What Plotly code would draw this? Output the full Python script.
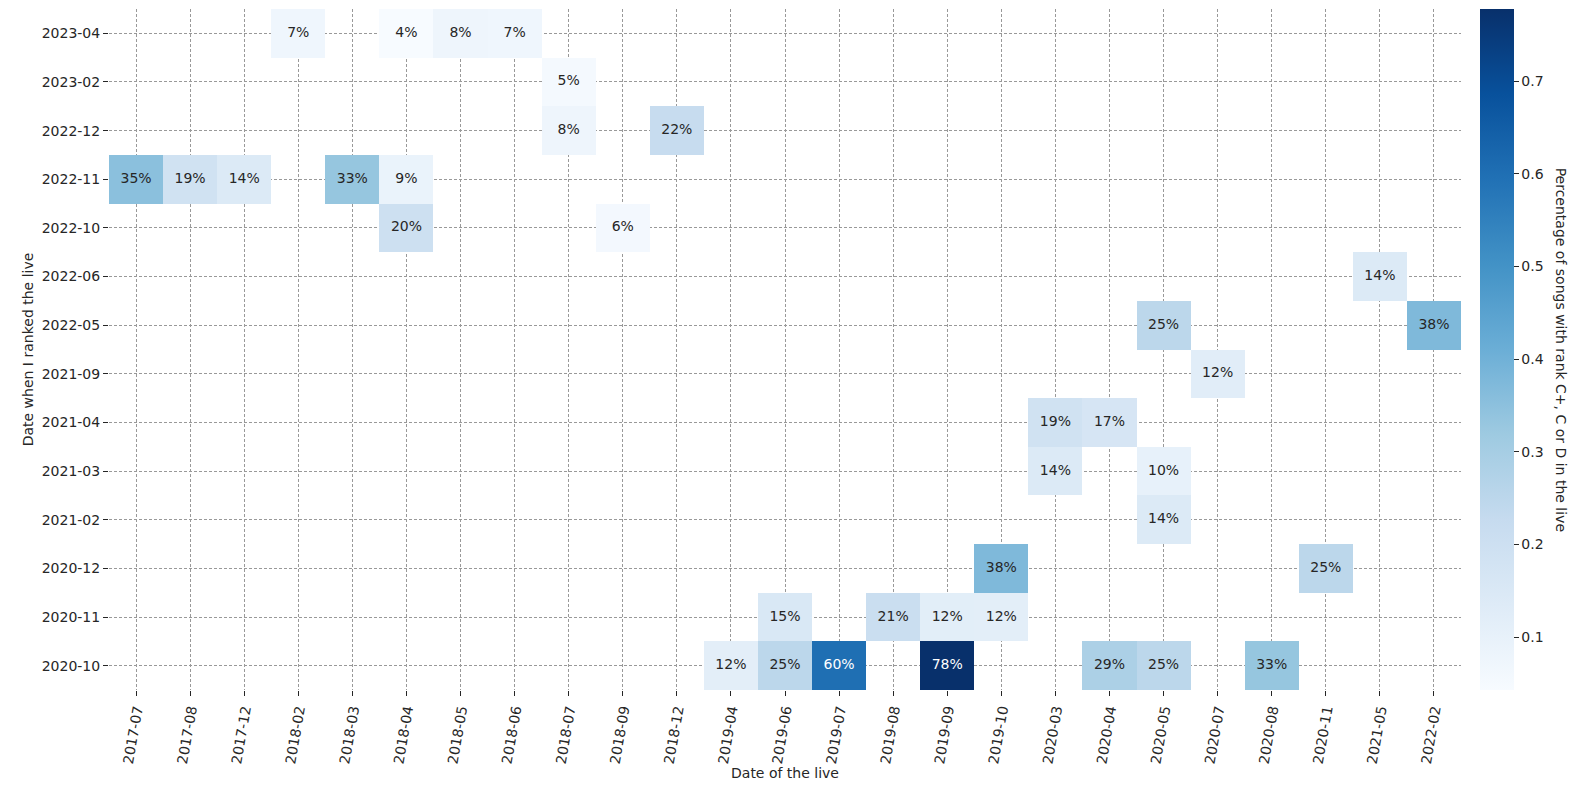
import pandas as pd
import plotly.graph_objects as go

live_dates = [
    "2017-07", "2017-08", "2017-12", "2018-02", "2018-03", "2018-04", "2018-05",
    "2018-06", "2018-07", "2018-09", "2018-12", "2019-04", "2019-06", "2019-07",
    "2019-08", "2019-09", "2019-10", "2020-03", "2020-04", "2020-05", "2020-07",
    "2020-08", "2020-11", "2021-05", "2022-02",
]
rank_dates = [
    "2023-04", "2023-02", "2022-12", "2022-11", "2022-10", "2022-06", "2022-05",
    "2021-09", "2021-04", "2021-03", "2021-02", "2020-12", "2020-11", "2020-10",
]

# one entry per filled cell: (date of the live, date ranked, share of low-ranked songs)
cell_live = [
    "2018-02", "2018-04", "2018-05", "2018-06",
    "2018-07",
    "2018-07", "2018-12",
    "2017-07", "2017-08", "2017-12", "2018-03", "2018-04",
    "2018-04", "2018-09",
    "2021-05",
    "2020-05", "2022-02",
    "2020-07",
    "2020-03", "2020-04",
    "2020-03", "2020-05",
    "2020-05",
    "2019-10", "2020-11",
    "2019-06", "2019-08", "2019-09", "2019-10",
    "2019-04", "2019-06", "2019-07", "2019-09", "2020-04", "2020-05", "2020-08",
]
cell_rank = [
    "2023-04", "2023-04", "2023-04", "2023-04",
    "2023-02",
    "2022-12", "2022-12",
    "2022-11", "2022-11", "2022-11", "2022-11", "2022-11",
    "2022-10", "2022-10",
    "2022-06",
    "2022-05", "2022-05",
    "2021-09",
    "2021-04", "2021-04",
    "2021-03", "2021-03",
    "2021-02",
    "2020-12", "2020-12",
    "2020-11", "2020-11", "2020-11", "2020-11",
    "2020-10", "2020-10", "2020-10", "2020-10", "2020-10", "2020-10", "2020-10",
]
cell_share = [
    0.071, 0.043, 0.077, 0.071,
    0.053,
    0.077, 0.222,
    0.353, 0.188, 0.143, 0.333, 0.091,
    0.200, 0.059,
    0.143,
    0.250, 0.375,
    0.125,
    0.188, 0.167,
    0.143, 0.100,
    0.143,
    0.375, 0.250,
    0.154, 0.211, 0.120, 0.118,
    0.118, 0.250, 0.600, 0.778, 0.286, 0.250, 0.333,
]

blues = [
    [0.0, "#f7fbff"], [0.125, "#deebf7"], [0.25, "#c6dbef"], [0.375, "#9ecae1"],
    [0.5, "#6baed6"], [0.625, "#4292c6"], [0.75, "#2171b5"], [0.875, "#08519c"],
    [1.0, "#08306b"],
]

FONT = "DejaVu Sans, Arial"
INK = "#262626"
SIZE = 14

cells = pd.DataFrame({"live": cell_live, "rank": cell_rank, "share": cell_share})
grid = cells.pivot(index="rank", columns="live", values="share").reindex(index=rank_dates, columns=live_dates)
z = grid.astype(object).where(grid.notna(), None).values.tolist()

fig = go.Figure()
fig.add_trace(
    go.Heatmap(
        x=live_dates,
        y=rank_dates,
        z=z,
        colorscale=blues,
        zmin=min(cell_share),
        zmax=max(cell_share),
        hoverongaps=False,
        colorbar=dict(
            thickness=34,
            len=1.0,
            lenmode="fraction",
            x=1.014,
            xanchor="left",
            xpad=0,
            ypad=0,
            y=0.5,
            outlinewidth=0,
            tickvals=[0.1, 0.2, 0.3, 0.4, 0.5, 0.6, 0.7],
            ticks="outside",
            ticklen=5,
            tickcolor=INK,
            tickfont=dict(size=SIZE, color=INK, family=FONT),
        ),
        hovertemplate="live %{x}<br>ranked %{y}<br>%{z:.0%}<extra></extra>",
    )
)

fig.add_trace(
    go.Scatter(
        x=cells["live"],
        y=cells["rank"],
        mode="text",
        text=[f"{v:.0%}" for v in cells["share"]],
        textfont=dict(
            size=SIZE,
            family=FONT,
            color=["white" if v > 0.5 else INK for v in cells["share"]],
        ),
        hoverinfo="skip",
        showlegend=False,
    )
)

fig.add_annotation(
    text="Percentage of songs with rank C+, C or D in the live",
    xref="paper",
    yref="paper",
    x=1.082,
    y=0.5,
    textangle=90,
    showarrow=False,
    font=dict(size=SIZE, color=INK, family=FONT),
)

# the page body adds an 8px offset, margins account for it
fig.update_layout(
    width=1588,
    height=800,
    margin=dict(l=101, r=135, t=1, b=118, autoexpand=False),
    plot_bgcolor="white",
    paper_bgcolor="white",
    font=dict(family=FONT, size=SIZE, color=INK),
    showlegend=False,
)
fig.update_xaxes(
    title=dict(text="Date of the live", standoff=1, font=dict(size=SIZE)),
    type="category",
    categoryorder="array",
    categoryarray=live_dates,
    range=[-0.5, len(live_dates) - 0.5],
    tickangle=-80,
    ticks="outside",
    ticklen=5,
    tickcolor=INK,
    showgrid=True,
    gridcolor="#999999",
    griddash="3px,2px",
    gridwidth=0.8,
    showline=False,
    zeroline=False,
    automargin=False,
)
fig.update_yaxes(
    title=dict(text="Date when I ranked the live", standoff=4, font=dict(size=SIZE)),
    type="category",
    categoryorder="array",
    categoryarray=rank_dates,
    range=[len(rank_dates) - 0.5, -0.5],
    ticks="outside",
    ticklen=5,
    tickcolor=INK,
    showgrid=True,
    gridcolor="#999999",
    griddash="3px,2px",
    gridwidth=0.8,
    showline=False,
    zeroline=False,
    automargin=False,
)

fig.write_html("out.html")
